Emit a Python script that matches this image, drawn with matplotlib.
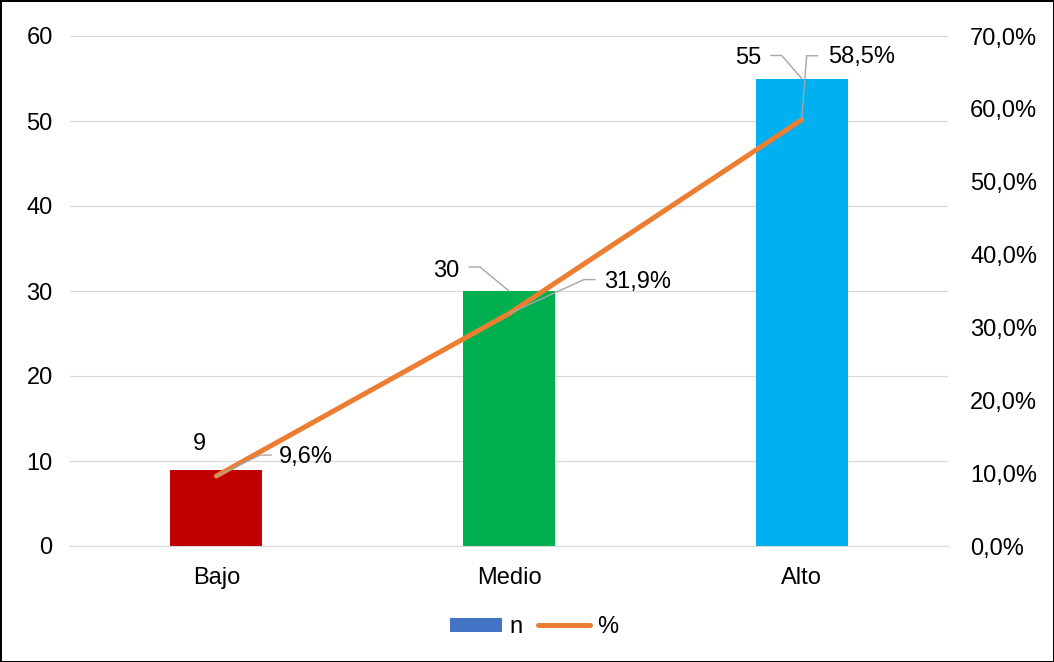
import matplotlib
matplotlib.use("Agg")
import matplotlib.pyplot as plt
from matplotlib.patches import Patch
from matplotlib.lines import Line2D
from matplotlib.ticker import FuncFormatter

categorias = ["Bajo", "Medio", "Alto"]
n_valores = [9, 30, 55]
porcentajes = [9.6, 31.9, 58.5]
colores_barras = ["#C00000", "#00B050", "#00B0F0"]

plt.rcParams["font.family"] = ["Liberation Sans", "DejaVu Sans"]
plt.rcParams["font.size"] = 17

fig = plt.figure(figsize=(10.54, 6.62), dpi=100)
fig.patch.set_edgecolor("black")
fig.patch.set_linewidth(2)
ax = fig.add_axes([70 / 1054, 1 - 546 / 662, (948 - 70) / 1054, (546 - 36) / 662])
ax2 = ax.twinx()
ax.set_zorder(1)
ax2.set_zorder(2)
ax.patch.set_visible(False)
ax2.patch.set_visible(False)

x = list(range(len(categorias)))
ax.bar(x, n_valores, width=0.315, color=colores_barras, zorder=2)
ax.set_xlim(-0.5, 2.5)
ax.set_ylim(0, 60)
ax.set_yticks(range(0, 61, 10))
ax.set_xticks(x)
ax.set_xticklabels(categorias)
ax.grid(axis="y", color="#D9D9D9", linewidth=0.9, zorder=0)
for s in ["left", "right", "top"]:
    ax.spines[s].set_visible(False)
ax.spines["bottom"].set_color("#D9D9D9")
ax.tick_params(axis="y", length=0, pad=12.5)
ax.tick_params(axis="x", length=0, pad=15)

ax2.plot(x, porcentajes, color="#ED7D31", linewidth=3.6, solid_capstyle="round", zorder=3)
ax2.set_ylim(0, 70)
ax2.set_yticks(range(0, 71, 10))
ax2.yaxis.set_major_formatter(FuncFormatter(lambda v, p: f"{v:.1f}%".replace(".", ",")))
for s in ["left", "right", "top", "bottom"]:
    ax2.spines[s].set_visible(False)
ax2.tick_params(axis="y", length=0, pad=16)

gris = "#A6A6A6"

def leader(axis, xy, start, ang, arm):
    axis.annotate("", xy=xy, xytext=start, textcoords="offset pixels",
                  arrowprops=dict(arrowstyle="-", color=gris, lw=1.0,
                                  shrinkA=0, shrinkB=0, patchA=None,
                                  connectionstyle=f"arc,angleA={ang},armA={arm},angleB=0,armB=0,rad=0"),
                  zorder=4)

# etiquetas de n
n_offsets = [(-17, 26, "center"), (-50, 20, "right"), (-40, 21, "right")]
n_leaders = [None, (-40, 24), (-31, 23)]
for i, v in enumerate(n_valores):
    dx, dy, ha = n_offsets[i]
    ax.annotate(str(v), xy=(i, v), xytext=(dx, dy), textcoords="offset pixels",
                ha=ha, va="center", zorder=5)
    if n_leaders[i] is not None:
        leader(ax, (i, v), n_leaders[i], 0, 11)

# etiquetas de %
p_offsets = [(63, 19), (95, 32), (26, 63)]
p_leaders = [(55, 21), (86, 34), (16, 64)]
for i, v in enumerate(porcentajes):
    txt = f"{v:.1f}%".replace(".", ",")
    ax2.annotate(txt, xy=(i, v), xytext=p_offsets[i], textcoords="offset pixels",
                 ha="left", va="center", zorder=5)
    leader(ax2, (i, v), p_leaders[i], 180, 11)

handles = [Patch(facecolor="#4472C4", edgecolor="none"),
           Line2D([0], [0], color="#ED7D31", linewidth=3.6, solid_capstyle="round")]
fig.legend(handles, ["n", "%"], loc="center", bbox_to_anchor=(534 / 1054, 1 - 627 / 662),
           ncol=2, frameon=False, handlelength=2.2, handleheight=0.55,
           handletextpad=0.3, columnspacing=0.65)

fig.savefig("out.png", dpi=100)
